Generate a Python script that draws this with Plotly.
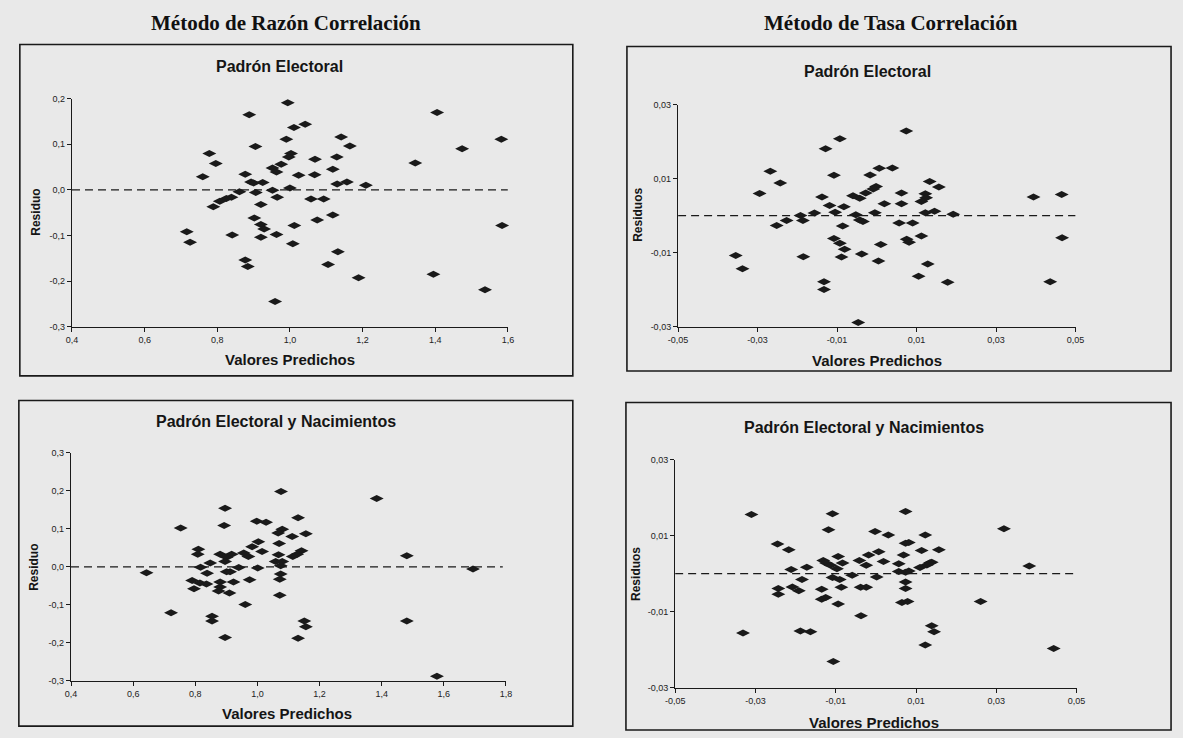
import plotly.graph_objects as go

W, H = 1183, 738

# ---------------- data ----------------
# Panel 1: Método de Razón Correlación - Padrón Electoral
p1_x = [0.888, 0.994, 1.042, 1.011, 1.405, 1.582, 1.474, 1.345, 1.141, 1.165, 0.990, 0.905, 0.778,
        0.796, 0.760, 1.003, 0.997, 0.976, 0.952, 0.963, 1.069, 1.024, 1.068, 1.129, 1.118, 0.877,
        0.893, 0.925, 0.900, 1.130, 1.157, 1.209, 1.000, 0.952, 0.861, 0.906, 0.965, 0.839, 0.825,
        0.807, 0.789, 0.920, 1.058, 1.093, 1.075, 1.118, 0.902, 0.920, 0.929, 1.012, 1.584, 0.716,
        0.725, 0.841, 0.920, 0.963, 1.008, 1.132, 0.877, 0.884, 1.105, 1.189, 1.395, 1.537, 0.959]
p1_y = [0.165, 0.191, 0.144, 0.137, 0.170, 0.111, 0.090, 0.059, 0.116, 0.096, 0.111, 0.095, 0.080,
        0.058, 0.029, 0.080, 0.072, 0.056, 0.048, 0.039, 0.067, 0.032, 0.033, 0.072, 0.045, 0.034,
        0.017, 0.016, 0.015, 0.013, 0.017, 0.010, 0.004, -0.001, -0.004, -0.006, -0.016, -0.016, -0.019,
        -0.025, -0.037, -0.032, -0.020, -0.020, -0.066, -0.055, -0.062, -0.076, -0.086, -0.078, -0.078, -0.092,
        -0.115, -0.099, -0.104, -0.098, -0.118, -0.136, -0.154, -0.168, -0.164, -0.193, -0.185, -0.219, -0.245]

# Panel 2: Método de Tasa Correlación - Padrón Electoral
p2_x = [0.0074, -0.0093, -0.0129, -0.0268, -0.0243, -0.0108, -0.0017, 0.0006, 0.0039, -0.0295, -0.0002,
        -0.0009, -0.0028, -0.0060, -0.0043, -0.0138, 0.0062, 0.0133, 0.0156, 0.0122, 0.0124, 0.0112,
        0.0394, 0.0465, 0.0019, 0.0062, -0.0119, -0.0083, -0.0105, -0.0005, 0.0122, 0.0145, 0.0192,
        -0.0157, -0.0192, -0.0186, -0.0227, -0.0252, -0.0053, -0.0043, -0.0035, -0.0086, 0.0056, 0.0090,
        -0.0108, -0.0093, -0.0081, 0.0112, 0.0075, 0.0081, 0.0010, 0.0466, -0.0355, -0.0338, -0.0185,
        -0.0089, -0.0038, 0.0004, 0.0128, 0.0105, 0.0178, -0.0133, -0.0133, 0.0436, -0.0047]
p2_y = [0.0229, 0.0208, 0.0181, 0.0120, 0.0088, 0.0109, 0.0110, 0.0128, 0.0129, 0.0060, 0.0079,
        0.0072, 0.0061, 0.0054, 0.0047, 0.0050, 0.0061, 0.0092, 0.0077, 0.0059, 0.0048, 0.0038,
        0.0050, 0.0057, 0.0032, 0.0032, 0.0027, 0.0024, 0.0009, 0.0008, 0.0008, 0.0012, 0.0004,
        0.0007, 0.0000, -0.0013, -0.0013, -0.0027, 0.0002, -0.0012, -0.0016, -0.0028, -0.0020, -0.0020,
        -0.0062, -0.0075, -0.0091, -0.0055, -0.0064, -0.0072, -0.0078, -0.0060, -0.0108, -0.0144, -0.0111,
        -0.0112, -0.0104, -0.0123, -0.0131, -0.0164, -0.0180, -0.0179, -0.0200, -0.0179, -0.0289]

# Panel 3: Método de Razón Correlación - Padrón Electoral y Nacimientos
p3_x = [1.076, 0.896, 1.384, 1.131, 0.753, 0.893, 0.998, 1.028, 1.080, 1.067, 1.112, 1.156, 0.810,
        0.808, 1.003, 0.983, 1.070, 1.015, 0.956, 0.971, 1.068, 1.142, 1.128, 1.114, 1.481, 0.880,
        0.901, 0.917, 0.896, 1.059, 1.080, 1.075, 0.848, 0.817, 0.940, 1.001, 1.694, 0.643, 0.838,
        0.901, 0.912, 1.075, 0.790, 0.815, 0.836, 0.880, 0.923, 0.975, 1.072, 0.796, 0.880, 0.875,
        0.910, 1.072, 0.961, 0.722, 0.854, 0.854, 1.151, 1.156, 1.481, 0.896, 1.131, 1.578]
p3_y = [0.198, 0.154, 0.180, 0.129, 0.102, 0.109, 0.120, 0.117, 0.099, 0.089, 0.080, 0.087, 0.046,
        0.033, 0.066, 0.053, 0.061, 0.040, 0.036, 0.027, 0.032, 0.042, 0.033, 0.027, 0.029, 0.033,
        0.025, 0.033, 0.014, 0.014, 0.014, 0.003, 0.010, -0.001, -0.002, -0.003, -0.006, -0.016, -0.017,
        -0.013, -0.013, -0.019, -0.036, -0.043, -0.045, -0.040, -0.040, -0.034, -0.033, -0.058, -0.053, -0.064,
        -0.069, -0.075, -0.099, -0.121, -0.130, -0.143, -0.143, -0.158, -0.143, -0.186, -0.188, -0.288]

# Panel 4: Método de Tasa Correlación - Padrón Electoral y Nacimientos
p4_x = [-0.0310, -0.0108, 0.0074, 0.0319, -0.0118, -0.0002, 0.0031, 0.0123, -0.0245, -0.0217, 0.0074,
        0.0082, 0.0114, 0.0157, 0.0007, -0.0018, 0.0069, -0.0094, -0.0131, -0.0124, -0.0113, -0.0083,
        -0.0041, -0.0024, 0.0019, 0.0135, 0.0139, 0.0127, 0.0110, 0.0057, -0.0172, -0.0211, -0.0097,
        0.0382, 0.0503, 0.0057, 0.0074, 0.0082, -0.0059, 0.0002, -0.0108, -0.0090, -0.0184, 0.0074,
        -0.0243, -0.0243, -0.0208, -0.0192, -0.0086, -0.0038, -0.0024, 0.0074, -0.0135, -0.0135, -0.0125,
        -0.0094, 0.0065, 0.0079, 0.0261, -0.0037, -0.0331, -0.0188, -0.0163, 0.0139, 0.0145, 0.0123,
        0.0443, -0.0106]
p4_y = [0.0156, 0.0158, 0.0164, 0.0118, 0.0116, 0.0111, 0.0102, 0.0102, 0.0078, 0.0063, 0.0080,
        0.0082, 0.0061, 0.0063, 0.0058, 0.0049, 0.0049, 0.0045, 0.0035, 0.0028, 0.0022, 0.0028,
        0.0035, 0.0022, 0.0032, 0.0029, 0.0030, 0.0023, 0.0016, 0.0026, 0.0017, 0.0011, 0.0013,
        0.0020, 0.0006, 0.0006, 0.0004, 0.0007, -0.0004, -0.0009, -0.0010, -0.0015, -0.0015, -0.0022,
        -0.0039, -0.0054, -0.0035, -0.0045, -0.0036, -0.0036, -0.0036, -0.0039, -0.0041, -0.0067, -0.0063,
        -0.0080, -0.0076, -0.0073, -0.0073, -0.0111, -0.0156, -0.0151, -0.0153, -0.0137, -0.0153, -0.0188,
        -0.0197, -0.0231]

# tick values / labels
ratio_x_ticks = [0.4, 0.6, 0.8, 1.0, 1.2, 1.4, 1.6]
ratio_x_labels = ["0,4", "0,6", "0,8", "1,0", "1,2", "1,4", "1,6"]
ratio_y1_ticks = [0.2, 0.1, 0.0, -0.1, -0.2, -0.3]
ratio_y1_labels = ["0,2", "0,1", "0,0", "-0,1", "-0,2", "-0,3"]
ratio_x3_ticks = [0.4, 0.6, 0.8, 1.0, 1.2, 1.4, 1.6, 1.8]
ratio_x3_labels = ["0,4", "0,6", "0,8", "1,0", "1,2", "1,4", "1,6", "1,8"]
ratio_y3_ticks = [0.3, 0.2, 0.1, 0.0, -0.1, -0.2, -0.3]
ratio_y3_labels = ["0,3", "0,2", "0,1", "0,0", "-0,1", "-0,2", "-0,3"]
rate_x_ticks = [-0.05, -0.03, -0.01, 0.01, 0.03, 0.05]
rate_x_labels = ["-0,05", "-0,03", "-0,01", "0,01", "0,03", "0,05"]
rate_y_ticks = [0.03, 0.01, -0.01, -0.03]
rate_y_labels = ["0,03", "0,01", "-0,01", "-0,03"]

main_titles = ["Método de Razón Correlación", "Método de Tasa Correlación"]
panel_titles = ["Padrón Electoral", "Padrón Electoral", "Padrón Electoral y Nacimientos",
                "Padrón Electoral y Nacimientos"]
x_title = "Valores Predichos"
y_titles = ["Residuo", "Residuos", "Residuo", "Residuos"]

# ---------------- figure ----------------
BG = "#e9e9e9"
INK = "#1a1a1a"
SANS = "Liberation Sans, Arial, sans-serif"
SERIF = "Liberation Serif, Times New Roman, serif"

def px(x):
    return x / W

def py(y):
    return 1 - y / H

fig = go.Figure()

panels = [
    (p1_x, p1_y, "x", "y"),
    (p2_x, p2_y, "x2", "y2"),
    (p3_x, p3_y, "x3", "y3"),
    (p4_x, p4_y, "x4", "y4"),
]
for xs, ys, xa, ya in panels:
    fig.add_trace(go.Scatter(
        x=xs, y=ys, xaxis=xa, yaxis=ya, mode="markers",
        marker=dict(symbol="diamond-wide", size=10, color=INK, line=dict(width=0)),
        cliponaxis=False, showlegend=False, hoverinfo="x+y"))

# dashed zero lines
zero_lines = [("x", "y", 0.4, 1.6), ("x2", "y2", -0.05, 0.05),
              ("x3", "y3", 0.4, 1.79), ("x4", "y4", -0.05, 0.05)]
for xa, ya, a, b in zero_lines:
    fig.add_trace(go.Scatter(x=[a, b], y=[0, 0], xaxis=xa, yaxis=ya, mode="lines",
                             line=dict(color=INK, width=1.2, dash="8px,5px"),
                             cliponaxis=False, showlegend=False, hoverinfo="skip"))

# domains (pixel based)
dom = {
    1: dict(x=[px(63), px(506)], y=[py(326), py(95)]),
    2: dict(x=[px(679), px(1083)], y=[py(326), py(101)]),
    3: dict(x=[px(62), px(504)], y=[py(685), py(454)]),
    4: dict(x=[px(676), px(1084)], y=[py(692), py(461)]),
}
axcommon = dict(showgrid=False, zeroline=False, showline=True, linecolor=INK, linewidth=1.3,
                ticks="outside", ticklen=4, tickwidth=1, tickcolor=INK,
                tickfont=dict(family=SANS, size=9, color="#222"), fixedrange=True)

def xax(i, rng, tv, tt):
    d = dict(axcommon)
    d.update(domain=dom[i]["x"], range=rng, tickmode="array", tickvals=tv, ticktext=tt,
             anchor="y" if i == 1 else f"y{i}")
    return d

def yax(i, rng, tv, tt):
    d = dict(axcommon)
    d.update(domain=dom[i]["y"], range=rng, tickmode="array", tickvals=tv, ticktext=tt,
             anchor="x" if i == 1 else f"x{i}")
    return d

fig.update_layout(
    width=W, height=H, autosize=False,
    margin=dict(l=0, r=0, t=0, b=0),
    paper_bgcolor=BG, plot_bgcolor=BG,
    xaxis=xax(1, [0.4, 1.6], ratio_x_ticks, ratio_x_labels),
    yaxis=yax(1, [-0.3, 0.2], ratio_y1_ticks, ratio_y1_labels),
    xaxis2=xax(2, [-0.05, 0.05], rate_x_ticks, rate_x_labels),
    yaxis2=yax(2, [-0.03, 0.03], rate_y_ticks, rate_y_labels),
    xaxis3=xax(3, [0.4, 1.8], ratio_x3_ticks, ratio_x3_labels),
    yaxis3=yax(3, [-0.3, 0.3], ratio_y3_ticks, ratio_y3_labels),
    xaxis4=xax(4, [-0.05, 0.05], rate_x_ticks, rate_x_labels),
    yaxis4=yax(4, [-0.03, 0.03], rate_y_ticks, rate_y_labels),
)

# panel boxes
boxes = [(10, 40, 572, 376), (627, 42, 1180, 371), (9, 401, 572, 731), (626, 403, 1180, 735)]
for x0, y0, x1, y1 in boxes:
    fig.add_shape(type="rect", xref="paper", yref="paper",
                  x0=px(x0), x1=px(x1), y0=py(y1), y1=py(y0),
                  line=dict(color=INK, width=1.6), fillcolor="rgba(0,0,0,0)", layer="below")

ann = []
# main titles
for t, x in zip(main_titles, [280, 895]):
    ann.append(dict(text=f"<b>{t}</b>", x=px(x), y=py(18), xref="paper", yref="paper",
                    showarrow=False, xanchor="center", yanchor="middle",
                    font=dict(family=SERIF, size=21, color="#111")))
# panel titles
for t, (x, y) in zip(panel_titles, [(274, 62), (871, 67), (270, 422), (868, 428)]):
    ann.append(dict(text=f"<b>{t}</b>", x=px(x), y=py(y), xref="paper", yref="paper",
                    showarrow=False, xanchor="center", yanchor="middle",
                    font=dict(family=SANS, size=16, color="#151515")))
# x titles
for (x, y) in [(285, 359), (881, 360), (282, 718), (878, 727)]:
    ann.append(dict(text=f"<b>{x_title}</b>", x=px(x), y=py(y), xref="paper", yref="paper",
                    showarrow=False, xanchor="center", yanchor="middle",
                    font=dict(family=SANS, size=15, color="#151515")))
# y titles
for t, (x, y) in zip(y_titles, [(27, 210), (638, 213), (25, 570), (636, 577)]):
    ann.append(dict(text=f"<b>{t}</b>", x=px(x), y=py(y), xref="paper", yref="paper",
                    showarrow=False, xanchor="center", yanchor="middle", textangle=-90,
                    font=dict(family=SANS, size=12, color="#151515")))
fig.update_layout(annotations=ann)

fig.write_html("out.html")
